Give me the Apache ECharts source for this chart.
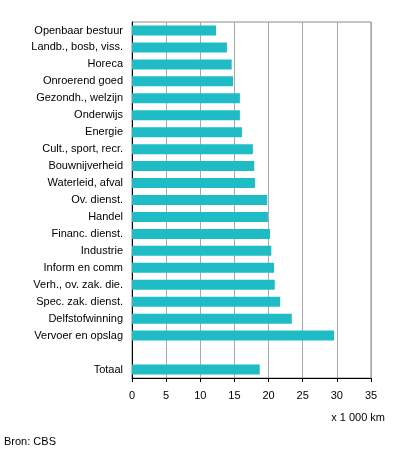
<!DOCTYPE html>
<html>
<head>
<meta charset="utf-8">
<script src="https://cdn.jsdelivr.net/npm/echarts@6/dist/echarts.min.js"></script>
<style>
  html, body { margin: 0; padding: 0; background: #fff; }
  #chart { width: 396px; height: 462px; }
</style>
</head>
<body>
<div id="chart"></div>
<script>
// categories top to bottom, blank row before the total
const categories = [
  'Openbaar bestuur', 'Landb., bosb, viss.', 'Horeca', 'Onroerend goed',
  'Gezondh., welzijn', 'Onderwijs', 'Energie', 'Cult., sport, recr.',
  'Bouwnijverheid', 'Waterleid, afval', 'Ov. dienst.', 'Handel',
  'Financ. dienst.', 'Industrie', 'Inform en comm', 'Verh., ov. zak. die.',
  'Spec. zak. dienst.', 'Delfstofwinning', 'Vervoer en opslag', '', 'Totaal'
]
// x 1 000 km
const values = [
  12.3, 13.9, 14.6, 14.8,
  15.8, 15.8, 16.1, 17.7,
  17.9, 18.0, 19.8, 19.9,
  20.2, 20.4, 20.8, 20.9,
  21.7, 23.4, 29.6, null, 18.7
]
const xTicks = [0, 5, 10, 15, 20, 25, 30, 35]

const font = 'Arial, "Liberation Sans", sans-serif'
const chart = echarts.init(document.getElementById('chart'))

chart.setOption({
  animation: false,
  textStyle: { fontFamily: font },
  grid: {
    left: 132, right: 25, top: 22, bottom: 84,
    show: true, borderColor: '#8a8a8a', borderWidth: 1
  },
  xAxis: {
    type: 'value',
    min: xTicks[0],
    max: xTicks[xTicks.length - 1],
    interval: 5,
    axisLine: { show: true, lineStyle: { color: '#000', width: 1 } },
    axisTick: { show: true, length: 4, lineStyle: { color: '#000' } },
    axisLabel: { color: '#000', fontSize: 11, margin: 12, fontFamily: font },
    splitLine: { show: true, lineStyle: { color: '#a8a8a8', width: 1 } }
  },
  yAxis: {
    type: 'category',
    data: categories,
    inverse: true,
    axisLine: { show: true, lineStyle: { color: '#000', width: 1 } },
    axisTick: { show: false },
    axisLabel: { color: '#000', fontSize: 11, margin: 9, fontFamily: font },
    splitLine: { show: false }
  },
  series: [{
    type: 'bar',
    data: values,
    barWidth: 10,
    itemStyle: { color: '#1fbcc6' }
  }],
  graphic: [
    {
      type: 'text', right: 11, top: 412,
      style: { text: 'x 1 000 km', fill: '#000', font: '11px ' + font }
    },
    {
      type: 'text', left: 4, top: 436,
      style: { text: 'Bron: CBS', fill: '#000', font: '11px ' + font }
    }
  ]
})
</script>
</body>
</html>
